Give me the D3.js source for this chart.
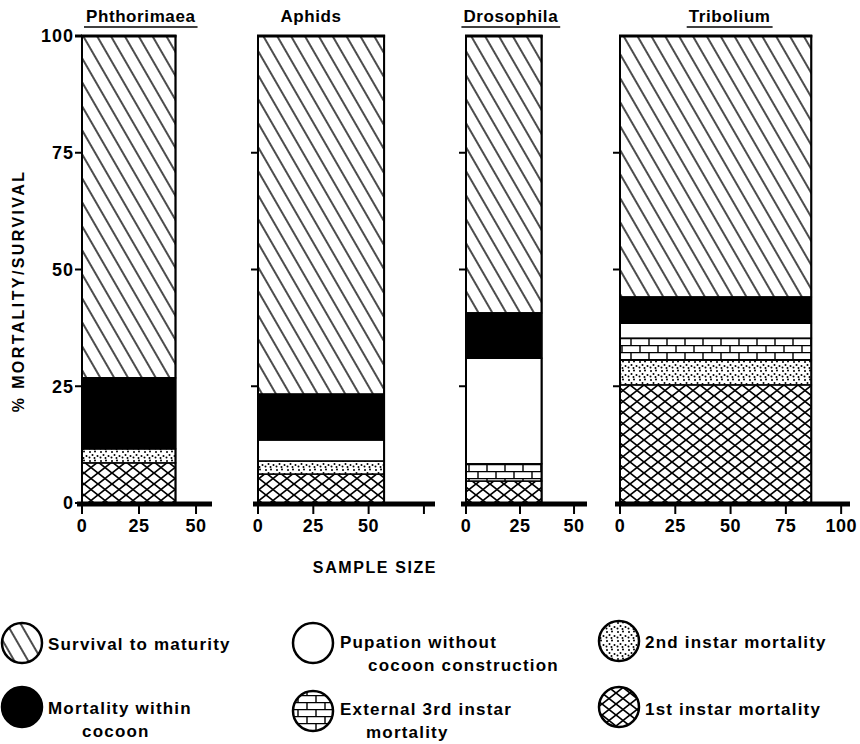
<!DOCTYPE html>
<meta charset="utf-8">
<script src="https://d3js.org/d3.v7.min.js"></script>
<style>
  body { margin: 0; background: #fff; }
  text { font-family: "Liberation Sans", Arial, sans-serif; font-weight: bold; fill: #000; }
</style>
<body>
<script>

// ---- data ----
var taxa = ["Phthorimaea", "Aphids", "Drosophila", "Tribolium"];
var underlined = [true, false, true, true];
var sampleSize = [41, 57, 35, 86.5];
var axisMax = [57, 80, 56, 104];
var xTicks = [[0, 25, 50], [0, 25, 50, 75], [0, 25, 50], [0, 25, 50, 75, 100]];
var xTickLabels = [[0, 25, 50], [0, 25, 50], [0, 25, 50], [0, 25, 50, 75, 100]];
var yTicks = [0, 25, 50, 75, 100];

// stacked bottom -> top
var categories = ["1st instar mortality", "2nd instar mortality", "External 3rd instar mortality",
                  "Pupation without cocoon construction", "Mortality within cocoon", "Survival to maturity"];
var phthorimaea = [8.6, 3.0, 0, 0, 15.2, 73.2];
var aphids      = [6.2, 2.8, 0, 4.5, 9.8, 76.7];
var drosophila  = [4.7, 0, 3.7, 22.6, 9.7, 59.3];
var tribolium   = [25.3, 5.3, 4.7, 3.2, 5.6, 55.9];
var values = [phthorimaea, aphids, drosophila, tribolium];

// ---- layout ----
var width = 860, height = 744;
var panelLeft  = [82, 258, 466, 620];
var panelRight = [212, 435, 587, 850];
var titleShift = [12, -10, 7, 14];
var fills = ["url(#cross)", "url(#dots)", "url(#bricks)", "#fff", "#000", "url(#diag)"];

var svg = d3.select("body").append("svg")
    .attr("width", width)
    .attr("height", height);

// patterns
var defs = svg.append("defs");

defs.append("pattern").attr("id", "diag")
    .attr("patternUnits", "userSpaceOnUse")
    .attr("width", 12).attr("height", 12)
    .attr("patternTransform", "rotate(-30)")
  .append("line")
    .attr("x1", 6).attr("y1", 0).attr("x2", 6).attr("y2", 12)
    .attr("stroke", "#000").attr("stroke-width", 1.4);

var cross = defs.append("pattern").attr("id", "cross")
    .attr("patternUnits", "userSpaceOnUse")
    .attr("width", 14).attr("height", 11);
cross.append("rect").attr("width", 14).attr("height", 11).attr("fill", "#fff");
cross.append("path")
    .attr("d", "M-1.4,-1.1L15.4,12.1M-1.4,12.1L15.4,-1.1")
    .attr("stroke", "#000").attr("stroke-width", 1.7);

var dots = defs.append("pattern").attr("id", "dots")
    .attr("patternUnits", "userSpaceOnUse")
    .attr("width", 11).attr("height", 9);
dots.append("rect").attr("width", 11).attr("height", 9).attr("fill", "#fff");
[[2, 2], [7, 1.5], [4.5, 5], [9.5, 6], [1.5, 7.5], [6.5, 8]].forEach(function(p) {
  dots.append("circle").attr("cx", p[0]).attr("cy", p[1]).attr("r", 1).attr("fill", "#000");
});

var bricks = defs.append("pattern").attr("id", "bricks")
    .attr("patternUnits", "userSpaceOnUse")
    .attr("width", 18).attr("height", 14).attr("y", 2);
bricks.append("rect").attr("width", 18).attr("height", 14).attr("fill", "#fff");
bricks.append("path")
    .attr("d", "M0,0.6H18M0,7.6H18M1,0V7M10,7V14")
    .attr("stroke", "#000").attr("stroke-width", 1.4);

// y scale shared by all panels
var y = d3.scaleLinear().domain([0, 100]).range([503, 36]);

taxa.forEach(function(name, i) {
  var x = d3.scaleLinear().domain([0, axisMax[i]]).range([panelLeft[i], panelRight[i]]);
  var g = svg.append("g");

  // stacked segments
  var cum = 0;
  values[i].forEach(function(v, j) {
    if (v > 0) {
      g.append("rect")
          .attr("x", x(0))
          .attr("y", y(cum + v))
          .attr("width", x(sampleSize[i]) - x(0))
          .attr("height", y(cum) - y(cum + v))
          .attr("fill", fills[j])
          .attr("stroke", "#000")
          .attr("stroke-width", 1.5);
    }
    cum += v;
  });

  // bar outline
  g.append("rect")
      .attr("x", x(0)).attr("y", y(100))
      .attr("width", x(sampleSize[i]) - x(0))
      .attr("height", y(0) - y(100))
      .attr("fill", "none").attr("stroke", "#000").attr("stroke-width", 2);
  g.append("line")
      .attr("x1", x(0) - 1).attr("x2", x(sampleSize[i]) + 1)
      .attr("y1", y(100)).attr("y2", y(100))
      .attr("stroke", "#000").attr("stroke-width", 3);

  // y ticks
  yTicks.filter(function(t) { return i === 0 || (t > 0 && t < 100); }).forEach(function(t) {
    g.append("line")
        .attr("x1", x(0) - 7).attr("x2", x(0))
        .attr("y1", y(t)).attr("y2", y(t))
        .attr("stroke", "#000").attr("stroke-width", t === 100 ? 3 : 2);
  });
  if (i === 0) {
    yTicks.forEach(function(t) {
      g.append("text")
          .attr("x", x(0) - 8).attr("y", y(t))
          .attr("dy", "0.36em")
          .attr("text-anchor", "end")
          .style("font-size", "18px")
          .style("letter-spacing", "1px")
          .text(t);
    });
  }

  // thick x axis
  g.append("line")
      .attr("x1", x(0) - 5).attr("x2", x(axisMax[i]))
      .attr("y1", y(0) + 1).attr("y2", y(0) + 1)
      .attr("stroke", "#000").attr("stroke-width", 5);
  xTicks[i].forEach(function(t) {
    g.append("line")
        .attr("x1", x(t)).attr("x2", x(t))
        .attr("y1", y(0)).attr("y2", y(0) + 11)
        .attr("stroke", "#000").attr("stroke-width", 2);
  });
  xTickLabels[i].forEach(function(t) {
    g.append("text")
        .attr("x", x(t)).attr("y", 532)
        .attr("text-anchor", "middle")
        .style("font-size", "18px")
        .style("letter-spacing", "0.5px")
        .text(t);
  });

  // title
  var cx = (x(0) + x(sampleSize[i])) / 2 + titleShift[i];
  var title = g.append("text")
      .attr("x", cx).attr("y", 22)
      .attr("text-anchor", "middle")
      .style("font-size", "17px")
      .style("letter-spacing", "0.6px")
      .text(name);
  if (underlined[i]) {
    var bb = title.node().getBBox();
    g.append("line")
        .attr("x1", bb.x - 2).attr("x2", bb.x + bb.width + 2)
        .attr("y1", 27).attr("y2", 27)
        .attr("stroke", "#000").attr("stroke-width", 1.5);
  }
});

// axis titles
svg.append("text")
    .attr("transform", "translate(24,291) rotate(-90)")
    .attr("text-anchor", "middle")
    .style("font-size", "16px")
    .style("letter-spacing", "2.4px")
    .text("% MORTALITY/SURVIVAL");

svg.append("text")
    .attr("x", 375).attr("y", 573)
    .attr("text-anchor", "middle")
    .style("font-size", "16px")
    .style("letter-spacing", "1.6px")
    .text("SAMPLE SIZE");

// legend
var legendCircle = [[619, 707], [619, 641], [313, 711], [313, 643], [22, 707], [22, 643]];
var legendLines = [
  [["1st instar mortality", 645, 715]],
  [["2nd instar mortality", 645, 648]],
  [["External 3rd instar", 340, 715], ["mortality", 366, 738]],
  [["Pupation without", 340, 648], ["cocoon construction", 368, 671]],
  [["Mortality within", 48, 714], ["cocoon", 82, 737]],
  [["Survival to maturity", 48, 650]]
];

categories.forEach(function(c, j) {
  svg.append("circle")
      .attr("cx", legendCircle[j][0]).attr("cy", legendCircle[j][1])
      .attr("r", 20)
      .attr("fill", fills[j])
      .attr("stroke", "#000").attr("stroke-width", 2.5);
  legendLines[j].forEach(function(l) {
    svg.append("text")
        .attr("x", l[1]).attr("y", l[2])
        .style("font-size", "17px")
        .style("letter-spacing", "1.2px")
        .text(l[0]);
  });
});

</script>
</body>
</html>
